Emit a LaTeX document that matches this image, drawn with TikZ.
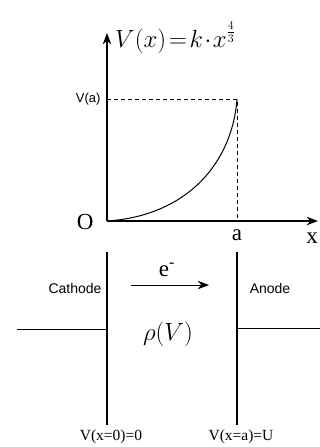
\documentclass[tikz,border=0pt]{standalone}
\usepackage{fontspec}
\setmainfont{Liberation Serif}
\setsansfont{Liberation Sans}
\usetikzlibrary{arrows.meta,calc}
\tikzset{>={Stealth[length=4mm,width=3mm]}}
\tikzset{
  Axis/.style={line width=1.4pt, ->},
  Plate/.style={line width=2.4pt},
  Lead/.style={line width=1pt},
  Guide/.style={dashed, line width=0.9pt, dash pattern=on 4pt off 3pt},
  SansLabel/.style={font=\sffamily\fontsize{14}{16}\selectfont},
  SerifLabel/.style={font=\fontsize{23}{25}\selectfont},
  VoltLabel/.style={font=\fontsize{15.5}{17}\selectfont}
}

\begin{document}
\begin{tikzpicture}[x=1pt, y=-1pt, line cap=butt]
    \path[use as bounding box] (0,0) rectangle (320,447);
    \def\Xc{107}
    \def\Xa{237}
    \def\Yo{221}
    \def\Yv{99}
    \coordinate (O) at (\Xc,\Yo);
    \coordinate (Ytip) at (\Xc,33);
    \coordinate (Xtip) at (318,\Yo);
    \coordinate (Va) at (\Xa,\Yv);
    \coordinate (Aa) at (\Xa,\Yo);
    \coordinate (Vy) at (\Xc,\Yv);

    % axes and the curve
    \draw[Axis] (O) -- (Ytip);
    \draw[Axis] (O) -- (Xtip);
    \draw[Guide] (Vy) -- (Va) -- (Aa);
    \draw[line width=1pt] (O) .. controls (185,216) and (232,165) .. (Va);

    \node[SerifLabel, anchor=east] (lblO) at (97,222) {O};
    \node[SerifLabel] (lblA) at (\Xa,235) {a};
    \node[SerifLabel] (lblX) at (312,238) {x};
    \node[SansLabel, font=\sffamily\fontsize{13}{15}\selectfont, anchor=east] (lblVa) at (\Xc-3,\Yv) {V(a)};
    \node[anchor=west, inner sep=0pt, font=\fontsize{24}{26}\selectfont] (law) at (115,38)
        {$V(x)\!=\!k\!\cdot\! x^{\raisebox{2pt}{$\scriptstyle\frac{4}{3}$}}$};

    % the diode
    \coordinate (Ctop) at (\Xc,252);
    \coordinate (Cbot) at (\Xc,425);
    \coordinate (Atop) at (\Xa,252);
    \coordinate (Abot) at (\Xa,425);
    \draw[Plate] (Ctop) -- (Cbot);
    \draw[Plate] (Atop) -- (Abot);
    \coordinate (Cin) at (17,329);
    \coordinate (Cpin) at (\Xc,329);
    \coordinate (Apin) at (\Xa,328);
    \coordinate (Aout) at (320,328);
    \draw[Lead] (Cin) -- (Cpin);
    \draw[Lead] (Apin) -- (Aout);

    \node[SansLabel] (cath) at (75,288) {Cathode};
    \node[SansLabel] (anod) at (270,288) {Anode};

    \coordinate (eFrom) at (131,285);
    \coordinate (eTo) at (209,285);
    \draw[line width=1pt, ->] (eFrom) -- (eTo);
    \node[SerifLabel] (elec) at (167,270) {e\textsuperscript{-}};
    \node[font=\fontsize{24}{26}\selectfont] (rho) at (168,334) {$\rho(V)$};

    \node[VoltLabel] (vc) at (\Xc+4,437) {V(x=0)=0};
    \node[VoltLabel] (va) at (\Xa+4,437) {V(x=a)=U};
\end{tikzpicture}
\end{document}
